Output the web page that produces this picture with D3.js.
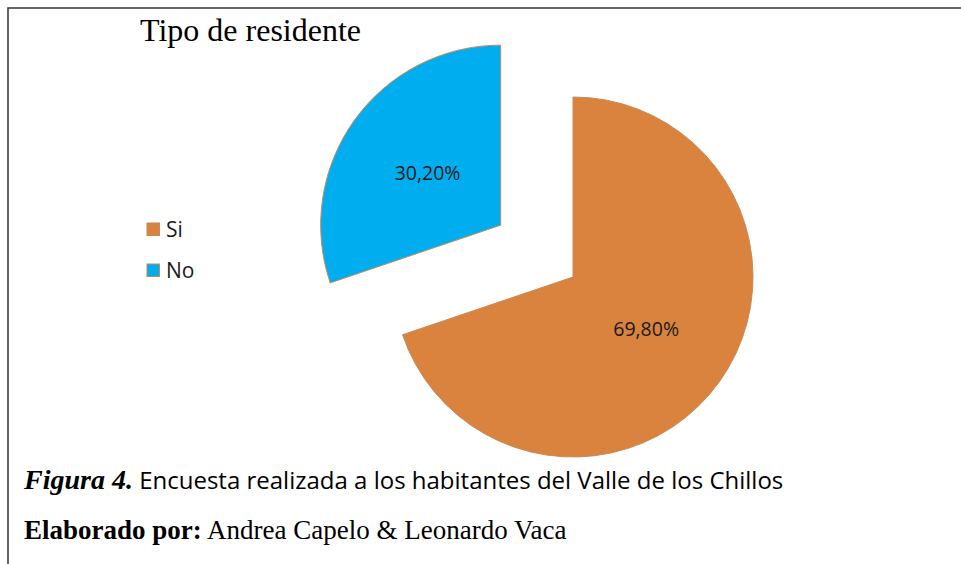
<!DOCTYPE html>
<html>
<head>
<meta charset="utf-8">
<script src="https://cdn.jsdelivr.net/npm/d3@7"></script>
<style>
  body { margin: 0; background: #fff; }
</style>
</head>
<body>
<div id="container"></div>
<script>
const categories = ["Si", "No"];
const values = [69.8, 30.2];
const valueLabels = ["69,80%", "30,20%"];
const colors = ["#d9833f", "#00aeef"];

const width = 961;
const height = 564;
const radius = 180;
const center = { x: 573, y: 277 };
const explode = { No: 89 };

const svg = d3.select('#container')
  .append('svg')
  .attr('width', width)
  .attr('height', height)
  .attr('viewBox', [0, 0, width, height]);

// frame (top + left only visible)
svg.append('path')
  .attr('d', `M8,${height} L8,8 L${width},8`)
  .attr('fill', 'none')
  .attr('stroke', '#333')
  .attr('stroke-width', 1.5);

svg.append('text')
  .attr('x', 140)
  .attr('y', 41)
  .attr('font-family', 'Liberation Serif')
  .attr('font-size', 32)
  .attr('fill', '#000')
  .text('Tipo de residente');

const pie = d3.pie().sort(null).value(d => d.value);
const arcs = pie(categories.map((c, i) => ({ name: c, value: values[i], label: valueLabels[i] })));
const arc = d3.arc().innerRadius(0).outerRadius(radius);

const g = svg.append('g')
  .attr('transform', `translate(${center.x},${center.y})`);

const slice = g.selectAll('g.slice')
  .data(arcs)
  .join('g')
  .attr('class', 'slice')
  .attr('transform', d => {
    const off = explode[d.data.name] || 0;
    const a = (d.startAngle + d.endAngle) / 2;
    return `translate(${Math.sin(a) * off},${-Math.cos(a) * off})`;
  });

slice.append('path')
  .attr('d', arc)
  .attr('fill', (d, i) => colors[i])
  .attr('stroke', '#c98a55')
  .attr('stroke-width', 1);

slice.append('text')
  .attr('transform', d => `translate(${arc.centroid(d)})`)
  .attr('text-anchor', 'middle')
  .attr('dy', '0.35em')
  .attr('font-family', 'Open Sans')
  .attr('font-size', 19.5)
  .attr('fill', '#1a1a1a')
  .text(d => d.data.label);

// legend
const legend = svg.append('g')
  .attr('transform', 'translate(147,223)');

const item = legend.selectAll('g')
  .data(categories)
  .join('g')
  .attr('transform', (d, i) => `translate(0,${i * 41})`);

item.append('rect')
  .attr('width', 12.5)
  .attr('height', 12.5)
  .attr('fill', (d, i) => colors[i])
  .attr('stroke', '#c98a55')
  .attr('stroke-width', 1);

item.append('text')
  .attr('x', 19)
  .attr('y', 14)
  .attr('font-family', 'Open Sans')
  .attr('font-size', 21)
  .attr('fill', '#1a1a1a')
  .text(d => d);

// caption
const cap1 = svg.append('text')
  .attr('x', 24)
  .attr('y', 489)
  .attr('fill', '#000');
cap1.append('tspan')
  .attr('font-family', 'Liberation Serif')
  .attr('font-weight', 'bold')
  .attr('font-style', 'italic')
  .attr('font-size', 28)
  .text('Figura 4.');
cap1.append('tspan')
  .attr('font-family', 'Open Sans')
  .attr('font-size', 24)
  .text(' Encuesta realizada a los habitantes del Valle de los Chillos');

const cap2 = svg.append('text')
  .attr('x', 24)
  .attr('y', 539)
  .attr('font-family', 'Liberation Serif')
  .attr('font-size', 27)
  .attr('fill', '#000');
cap2.append('tspan')
  .attr('font-weight', 'bold')
  .text('Elaborado por:');
cap2.append('tspan')
  .text(' Andrea Capelo & Leonardo Vaca');
</script>
</body>
</html>
